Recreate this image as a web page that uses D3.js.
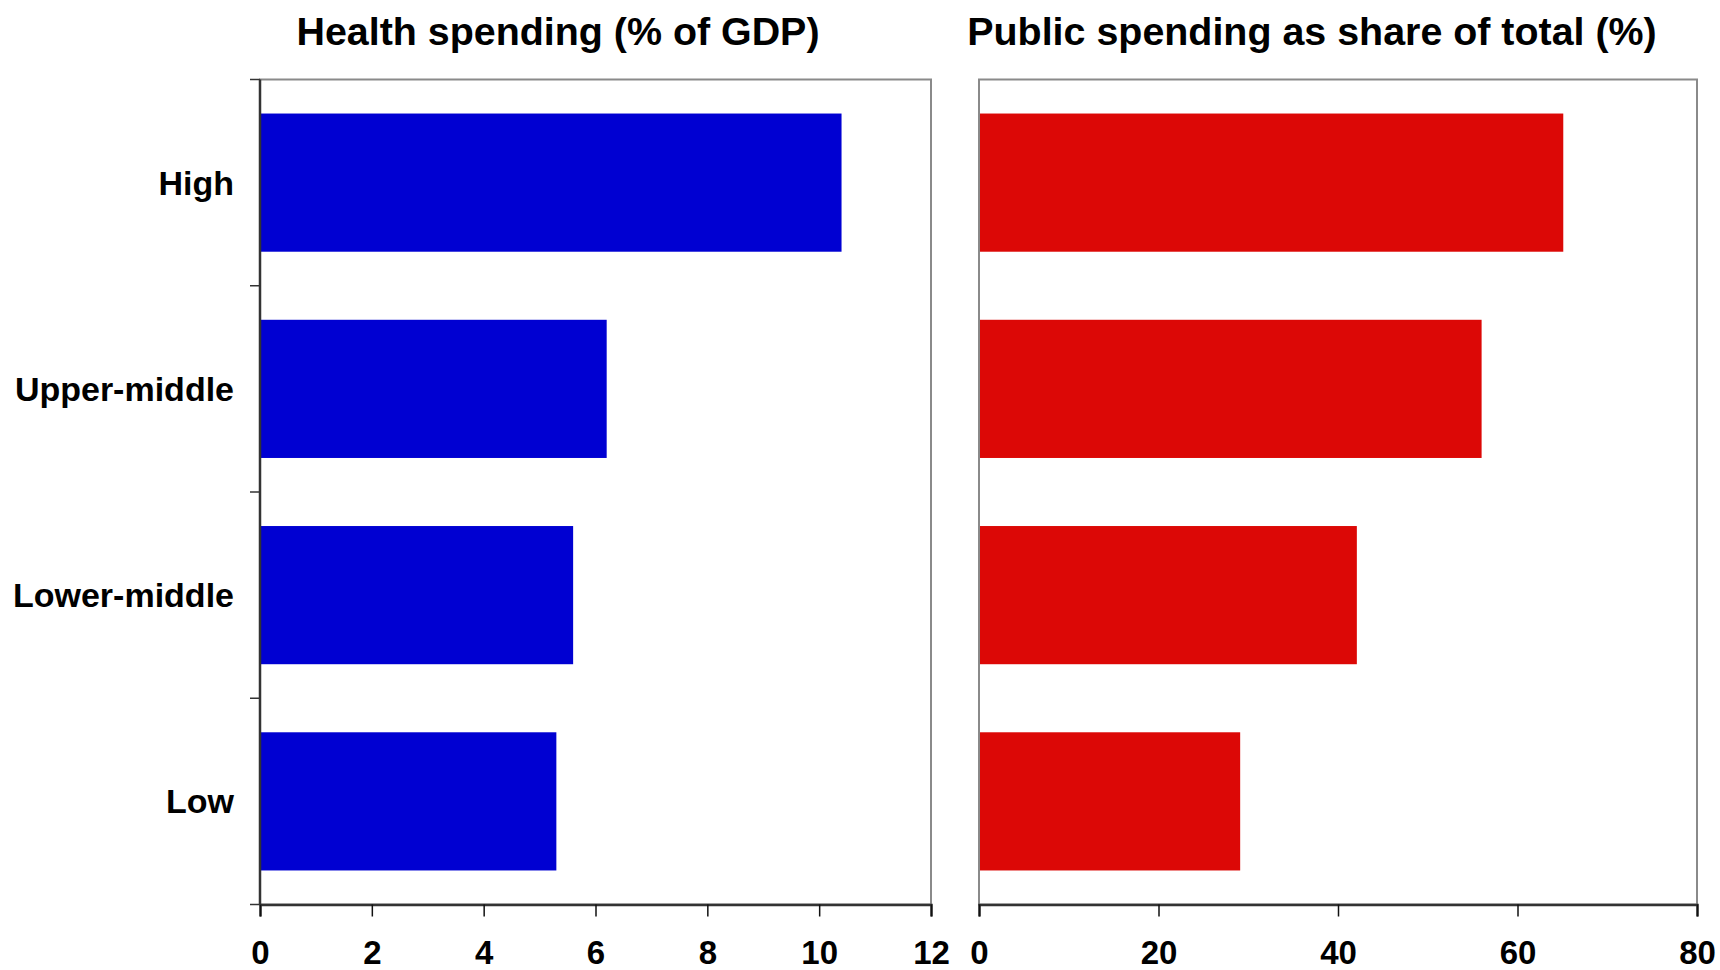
<!DOCTYPE html>
<html>
<head>
<meta charset="utf-8">
<script src="https://cdn.jsdelivr.net/npm/d3@7"></script>
<style>
  html, body { margin: 0; padding: 0; background: #fff; }
  svg { display: block; }
  text { font-family: "Liberation Sans", Arial, Helvetica, sans-serif; font-weight: bold; fill: #000; }
</style>
</head>
<body>
<svg id="chart" width="1720" height="970"></svg>
<script>
const categories = ["High", "Upper-middle", "Lower-middle", "Low"];
const healthSpending = [10.4, 6.2, 5.6, 5.3];
const publicShare = [65.1, 56.0, 42.1, 29.1];
const leftTicks = [0, 2, 4, 6, 8, 10, 12];
const rightTicks = [0, 20, 40, 60, 80];
const titles = ["Health spending (% of GDP)", "Public spending as share of total (%)"];

(function () {
const svg = d3.select("#chart");
const plotTop = 79.5, plotBottom = 904.5;

const y = d3.scaleBand().domain(categories).range([plotTop, plotBottom])
  .paddingInner(0.33).paddingOuter(0.165);

function panel(opts) {
  const x = d3.scaleLinear().domain(opts.domain).range([opts.x0, opts.x1]);
  const g = svg.append("g");
  const data = categories.map((c, i) => ({ c, v: opts.values[i] }));

  g.selectAll("rect.bar").data(data).enter().append("rect")
    .attr("class", "bar")
    .attr("x", x(0))
    .attr("y", d => y(d.c))
    .attr("width", d => x(d.v) - x(0))
    .attr("height", y.bandwidth())
    .attr("fill", opts.color);

  g.append("rect")
    .attr("x", opts.x0).attr("y", plotTop)
    .attr("width", opts.x1 - opts.x0).attr("height", plotBottom - plotTop)
    .attr("fill", "none").attr("stroke", "#8a8a8a").attr("stroke-width", 2);

  const xAxis = d3.axisBottom(x).tickValues(opts.ticks).tickSize(12).tickPadding(24)
    .tickFormat(d3.format("d"));
  const ax = g.append("g").attr("transform", `translate(0,${plotBottom})`).call(xAxis);
  ax.select(".domain").attr("stroke", "#333").attr("stroke-width", 2.5);
  ax.selectAll(".tick line").attr("stroke", "#111").attr("stroke-width", 1.5);
  ax.selectAll(".tick text").style("font-size", "33px")
    .style("font-family", "'Liberation Sans', Arial, sans-serif").style("font-weight", "bold").attr("fill", "#000");

  if (opts.yAxis) {
    const bounds = categories.map(c => y(c) - y.step() * y.paddingInner() / 2);
    bounds[0] = plotTop;
    bounds.push(plotBottom);
    const ya = g.append("g");
    ya.append("line").attr("x1", opts.x0).attr("x2", opts.x0)
      .attr("y1", plotTop).attr("y2", plotBottom).attr("stroke", "#333").attr("stroke-width", 2.5);
    ya.selectAll("line.tk").data(bounds).enter().append("line")
      .attr("class", "tk")
      .attr("x1", opts.x0 - 10).attr("x2", opts.x0)
      .attr("y1", d => d).attr("y2", d => d)
      .attr("stroke", "#333").attr("stroke-width", 1.5);
    ya.selectAll("text").data(categories).enter().append("text")
      .attr("x", opts.x0 - 26)
      .attr("y", c => y(c) + y.bandwidth() / 2)
      .attr("dy", "0.35em")
      .attr("text-anchor", "end")
      .style("font-size", "34px")
      .text(c => c);
  }

  svg.append("text")
    .attr("x", opts.titleX).attr("y", 45)
    .attr("text-anchor", "middle")
    .style("font-size", "39.4px")
    .text(opts.title);
}

panel({ x0: 260, x1: 931, domain: [0, 12], values: healthSpending, ticks: leftTicks,
        color: "#0000d2", yAxis: true, title: titles[0], titleX: 558 });
panel({ x0: 979, x1: 1697, domain: [0, 80], values: publicShare, ticks: rightTicks,
        color: "#dc0806", yAxis: false, title: titles[1], titleX: 1312 });
})();
</script>
</body>
</html>
